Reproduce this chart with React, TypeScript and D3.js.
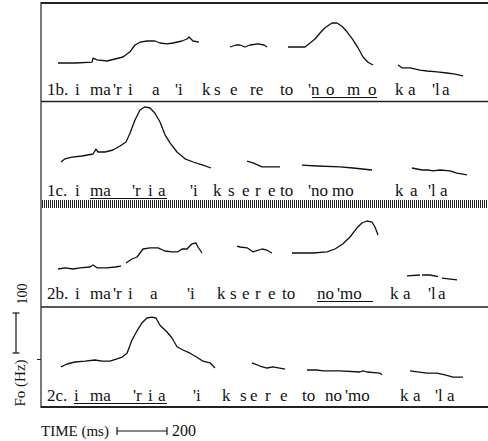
import React from "react";
import * as d3 from "d3";

type Pt = [number, number]; // [time ms, F0 Hz]
type Tok = [string, number]; // [text, onset ms]

const panelIds = ["1b", "1c", "2b", "2c"];

// F0 contours, one array of voiced stretches per utterance
const f0_1b: Pt[][] = [
  [[68,150],[140,150],[204,152],[208,162],[224,158],[264,155],[296,160],[328,165],[356,178],[376,195],[396,202],[424,205],[456,205],[476,200],[504,198],[528,200],[564,205],[584,210],[592,215],[608,205],[632,202]],
  [[756,190],[780,195],[796,195],[816,190],[836,195],[868,198],[892,195],[904,190]],
  [[988,190],[1056,190],[1076,200],[1096,210],[1116,225],[1136,238],[1164,250],[1184,250],[1204,242],[1224,228],[1248,208],[1268,188],[1288,165],[1308,152],[1328,145]],
  [[1428,145],[1444,138],[1476,138],[1516,132],[1544,130],[1584,128],[1624,125],[1656,122],[1688,118]],
];
const f0_1c: Pt[][] = [
  [[80,150],[96,158],[124,162],[164,165],[208,170],[220,182],[228,175],[256,175],[288,180],[316,190],[340,200],[356,222],[376,255],[396,280],[416,288],[436,285],[456,272],[476,250],[496,218],[516,198],[544,175],[576,158],[608,150],[648,142],[680,135]],
  [[824,152],[848,148],[884,138],[908,138],[956,138]],
  [[1044,142],[1104,140],[1196,138],[1248,135],[1324,130]],
  [[1484,135],[1524,130],[1548,130],[1568,128],[1596,130],[1636,128],[1664,122],[1704,118]],
];
const f0_2b: Pt[][] = [
  [[68,145],[96,148],[128,145],[156,148],[196,150],[208,155],[224,148],[264,148],[296,150],[320,152]],
  [[340,160],[364,170],[384,175],[396,185],[408,195],[436,198],[468,198],[496,190],[524,188],[548,188],[564,195],[584,195],[604,208],[620,210],[628,200],[644,185]],
  [[784,202],[796,200],[824,198],[848,188],[884,195],[904,192],[924,185]],
  [[1004,185],[1088,185],[1144,188],[1176,195],[1208,208],[1236,225],[1264,248],[1284,260],[1304,265],[1324,262],[1336,250],[1348,230]],
  [[1464,128],[1516,130]],
  [[1524,130],[1556,130],[1588,126]],
  [[1604,122],[1664,118]],
];
const f0_2c: Pt[][] = [
  [[80,148],[104,155],[136,160],[176,162],[216,165],[244,162],[276,162],[304,168],[324,172],[344,182],[364,215],[384,238],[404,258],[424,270],[444,272],[460,270],[476,252],[504,235],[524,220],[544,198],[568,190],[596,182],[624,172],[648,162],[676,158],[696,145]],
  [[844,158],[876,150],[904,145],[928,148],[976,142]],
  [[1064,140],[1104,140],[1128,138],[1196,138],[1276,135],[1288,138],[1304,135],[1356,132],[1364,128]],
  [[1476,138],[1544,132],[1584,132],[1616,128],[1648,122],[1688,122]],
];
const contours = [f0_1b, f0_1c, f0_2b, f0_2c];

// transcription tokens with onset times
const text_1b: Tok[] = [["1b.",24],["i",136],["ma",196],["'r",288],["i",348],["a",444],["'i",536],["k",644],["s",692],["e",756],["re",836],["to",956],["'n",1068],["o",1140],["m",1224],["o",1308],["k",1416],["a",1468],["'l",1564],["a",1604]];
const text_1c: Tok[] = [["1c.",24],["i",136],["ma",196],["'r",364],["i",428],["a",468],["'i",596],["k",688],["s",748],["e",804],["r",856],["e",908],["to",956],["'no",1068],["mo",1164],["k",1416],["a",1476],["'l",1548],["a",1596]];
const text_2b: Tok[] = [["2b.",24],["i",136],["ma",196],["'r",288],["i",348],["a",436],["'i",584],["k",704],["s",756],["e",804],["r",856],["e",908],["to",964],["no",1104],["'mo",1184],["k",1396],["a",1448],["'l",1548],["a",1588]];
const text_2c: Tok[] = [["2c.",24],["i",132],["ma",196],["'r",368],["i",428],["a",468],["'i",608],["k",724],["s",796],["e",836],["r",896],["e",956],["to",1044],["no",1136],["'mo",1216],["k",1436],["a",1488],["'l",1576],["a",1624]];
const texts = [text_1b, text_1c, text_2b, text_2c];

// focused (underlined) stretch, ms
const focusSpans: Pt[] = [[1084,1344],[196,504],[1104,1328],[132,504]];

const f0Ref = 100; // Hz scale bar
const timeRef = 200; // ms scale bar

const W = 488, H = 441;
const FL = 41;
const panelTops = [3, 102, 207, 306];
const baselines = [95, 196, 299, 401];

export default function App() {
  const x = d3.scaleLinear().domain([0, 1800]).range([FL, FL + 450]);
  const yFor = (i: number) => d3.scaleLinear().domain([300, 50]).range([panelTops[i], panelTops[i] + 100]);
  const line = (y: d3.ScaleLinear<number, number>) =>
    d3.line<Pt>().x((d) => x(d[0])).y((d) => y(d[1]));

  const y0 = yFor(3);
  const barLen = y0(200) - y0(200 + f0Ref);
  const tBarLen = x(timeRef) - x(0);
  const font = "'Liberation Serif', 'DejaVu Serif', serif";

  const hatch: number[] = d3.range(FL + 1, W, 2);

  return (
    <svg width={W} height={H} style={{ position: "absolute", left: 0, top: 0, background: "#fff" }}>
      <rect x={0} y={0} width={W} height={H} fill="#fff" />
      {/* frame */}
      <line x1={FL} x2={FL} y1={2} y2={408} stroke="#222" strokeWidth={1.2} />
      <line x1={FL} x2={W} y1={3} y2={3} stroke="#222" strokeWidth={2} />
      <line x1={FL} x2={W} y1={101.5} y2={101.5} stroke="#222" strokeWidth={1.5} />
      <line x1={FL} x2={W} y1={307} y2={307} stroke="#222" strokeWidth={1.5} />
      <line x1={FL} x2={W} y1={407} y2={407} stroke="#222" strokeWidth={2} />
      <g>
        {hatch.map((hx) => (
          <line key={hx} x1={hx + 0.5} x2={hx + 0.5} y1={200} y2={208} stroke="#222" strokeWidth={1} />
        ))}
      </g>
      <line x1={37} x2={FL} y1={359.5} y2={359.5} stroke="#222" strokeWidth={1} />

      {panelIds.map((id, i) => {
        const y = yFor(i);
        const lg = line(y);
        return (
          <g key={id}>
            {contours[i].map((seg, j) => (
              <path key={j} d={lg(seg) || ""} fill="none" stroke="#111" strokeWidth={1.3} strokeLinejoin="round" />
            ))}
            {texts[i].map(([t, ms], k) => (
              <text key={k} x={x(ms)} y={baselines[i]} fontFamily={font} fontSize={17} fill="#111">
                {t}
              </text>
            ))}
            <line
              x1={x(focusSpans[i][0])}
              x2={x(focusSpans[i][1])}
              y1={baselines[i] + 2.5}
              y2={baselines[i] + 2.5}
              stroke="#111"
              strokeWidth={1}
            />
          </g>
        );
      })}

      {/* F0 scale bar */}
      <g stroke="#111" strokeWidth={1.2}>
        <line x1={16} x2={16} y1={313} y2={313 + barLen} />
        <line x1={12.5} x2={19.5} y1={313} y2={313} />
        <line x1={12.5} x2={19.5} y1={313 + barLen} y2={313 + barLen} />
      </g>
      <text transform="translate(27,294) rotate(-90)" textAnchor="middle" fontFamily={font} fontSize={14} fill="#111">
        {String(f0Ref)}
      </text>
      <text transform="translate(25,383) rotate(-90)" textAnchor="middle" fontFamily={font} fontSize={15} fill="#111">
        Fo (Hz)
      </text>

      {/* time scale bar */}
      <text x={FL} y={436} fontFamily={font} fontSize={15} fill="#111">TIME (ms)</text>
      <g stroke="#111" strokeWidth={1.2}>
        <line x1={117} x2={117 + tBarLen} y1={431} y2={431} />
        <line x1={117} x2={117} y1={427} y2={435} />
        <line x1={117 + tBarLen} x2={117 + tBarLen} y1={427} y2={435} />
      </g>
      <text x={172} y={436} fontFamily={font} fontSize={16} fill="#111">{String(timeRef)}</text>
    </svg>
  );
}
